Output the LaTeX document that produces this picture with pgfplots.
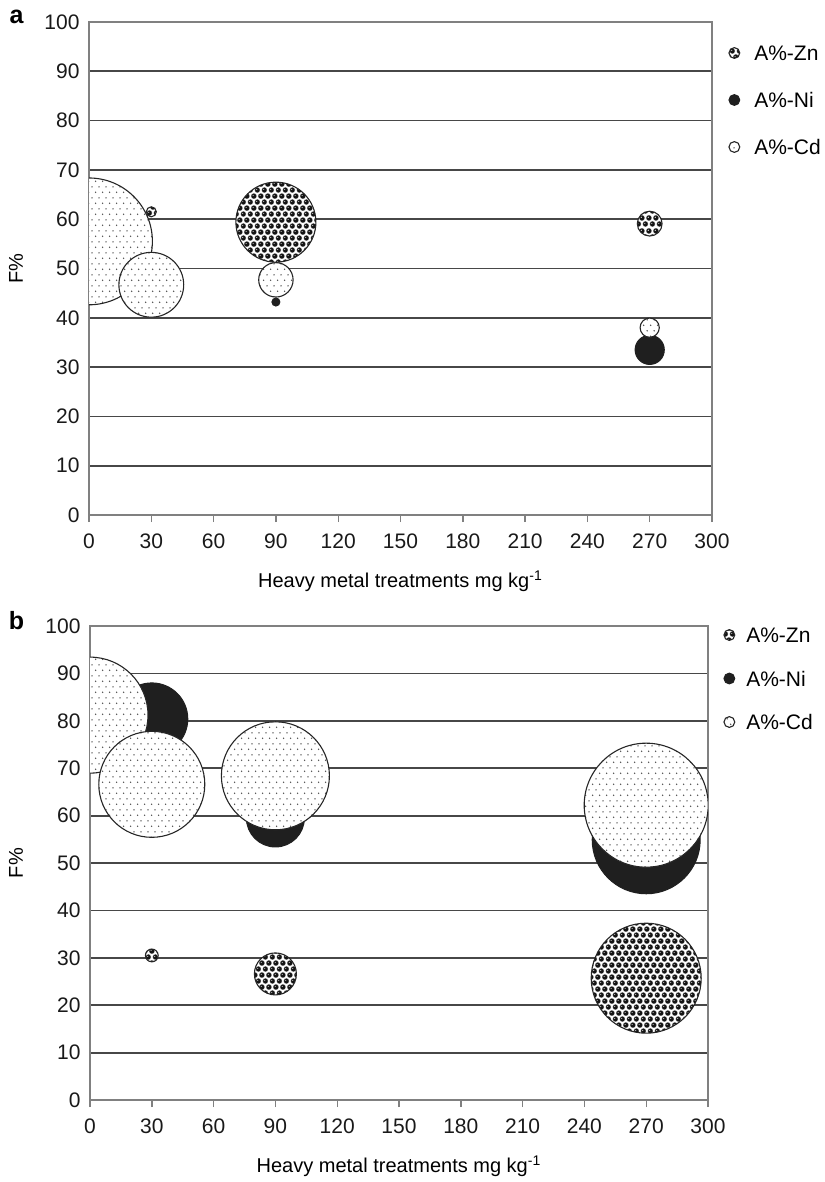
\documentclass[border=0pt]{standalone}
\usepackage{fontspec}
\setmainfont{Liberation Sans}
\usepackage{pgfplots}
\pgfplotsset{compat=1.18}
\usepackage{pgfplotstable}
\usetikzlibrary{patterns}

% ---------- patterns ----------
\pgfdeclarepatterninherentlycolored{cdpat}{\pgfpointorigin}{\pgfpoint{3.65pt}{5.7pt}}{\pgfpoint{3.65pt}{5.7pt}}{%
  \pgfsetfillcolor{black!70}%
  \pgfpathcircle{\pgfpoint{0.91pt}{1.42pt}}{0.42pt}%
  \pgfpathcircle{\pgfpoint{2.74pt}{4.27pt}}{0.42pt}%
  \pgfusepath{fill}}
\pgfdeclarepatterninherentlycolored{znpat}{\pgfpointorigin}{\pgfpoint{3.65pt}{6.2pt}}{\pgfpoint{3.65pt}{6.2pt}}{%
  \pgfsetfillcolor{white}%
  \pgfpathrectangle{\pgfpointorigin}{\pgfpoint{3.65pt}{6.2pt}}\pgfusepath{fill}%
  \pgfsetfillcolor{black!50}%
  \pgfpathcircle{\pgfpoint{1.825pt}{1.55pt}}{1.5pt}%
  \pgfpathcircle{\pgfpoint{0pt}{4.65pt}}{1.5pt}%
  \pgfpathcircle{\pgfpoint{3.65pt}{4.65pt}}{1.5pt}%
  \pgfusepath{fill}%
  \pgfsetfillcolor{black!92}%
  \pgfpathcircle{\pgfpoint{1.825pt}{1.55pt}}{1.22pt}%
  \pgfpathcircle{\pgfpoint{0pt}{4.65pt}}{1.22pt}%
  \pgfpathcircle{\pgfpoint{3.65pt}{4.65pt}}{1.22pt}%
  \pgfusepath{fill}%
  \pgfsetfillcolor{white}%
  \pgfpathcircle{\pgfpoint{1.5pt}{1.9pt}}{0.28pt}%
  \pgfpathcircle{\pgfpoint{3.325pt}{5.0pt}}{0.28pt}%
  \pgfusepath{fill}}

% ---------- bubble marks ----------
\pgfdeclareplotmark{cdbub}{%
  \pgfpathcircle{\pgfpointorigin}{\pgfplotmarksize}%
  \pgfsetfillcolor{white}\pgfusepath{fill}%
  \pgfpathcircle{\pgfpointorigin}{\pgfplotmarksize}%
  \pgfsetfillpattern{cdpat}{black}%
  \pgfsetstrokecolor{black!85}\pgfsetlinewidth{0.55pt}%
  \pgfusepath{fill,stroke}}
\pgfdeclareplotmark{znbub}{%
  \pgfpathcircle{\pgfpointorigin}{\pgfplotmarksize}%
  \pgfsetfillpattern{znpat}{black}%
  \pgfsetstrokecolor{black!85}\pgfsetlinewidth{0.55pt}%
  \pgfusepath{fill,stroke}}
\pgfdeclareplotmark{nibub}{%
  \pgfpathcircle{\pgfpointorigin}{\pgfplotmarksize}%
  \pgfsetfillcolor{black!88}\pgfsetstrokecolor{black!88}\pgfsetlinewidth{0.5pt}%
  \pgfusepath{fill,stroke}}
\newcommand\legmark[1]{\pgfsetplotmarksize{2.7pt}\pgfuseplotmark{#1}}

% ---------- data ----------
\pgfplotstableread{
x y r
30 61.5 2.5
90 59.4 20
270 59.1 6.2
}\aZn
\pgfplotstableread{
x y r
90 43.2 2
270 33.5 7.3
}\aNi
\pgfplotstableread{
x y r
0 55.5 31.7
30 46.7 16.2
90 47.7 8.6
270 38.0 4.8
}\aCd
\pgfplotstableread{
x y r
30 30.5 3.2
90 26.6 10.5
270 25.7 27.5
}\bZn
\pgfplotstableread{
x y r
30 80.4 18
90 59.5 14.5
270 54.9 27
}\bNi
\pgfplotstableread{
x y r
0 81.2 29
30 66.6 26.5
90 68.4 27
270 62.2 31
}\bCd

\newcommand\fs{\fontsize{10.5}{12.5}\selectfont}

\pgfplotsset{
  bub/.style={scatter, only marks, mark=#1, forget plot, point meta=\thisrow{r},
    visualization depends on={\thisrow{r} \as \rad},
    scatter/@pre marker code/.append style={/tikz/mark size=\rad}},
  panel/.style={scale only axis, xmin=0, xmax=300, ymin=0, ymax=100,
    xtick={0,30,...,300}, ytick={0,10,...,100},
    /pgf/number format/assume math mode=true,
    tick label style={font=\fs, black!90},
    xticklabel style={yshift=-2.5pt},
    yticklabel style={xshift=2.3pt},
    label style={font=\fs},
    ymajorgrids, major grid style={black!72, line width=0.9pt},
    axis line style={black!50, line width=0.7pt},
    xtick pos=bottom, ytick pos=left, tick align=outside,
    major tick length=3.5pt, ytick style={draw=none},
    xtick style={black!50, line width=0.7pt},
    clip marker paths=true,
    xlabel={Heavy metal treatments mg kg\textsuperscript{-1}},
    ylabel={F\%},
    every axis x label/.style={at={(axis description cs:0.5,0)}, anchor=center, yshift=-33pt},
    legend cell align=left,
    legend style={draw=none, fill=none, font=\fs, inner sep=0pt, outer sep=0pt,
      anchor=north west, at={(1,1)},
      nodes={inner sep=0pt, text height=7.5pt, text depth=0pt},
      column sep=7pt},
  }
}

\begin{document}
\begin{tikzpicture}
\path[use as bounding box] (0pt,0pt) rectangle (412pt,-591pt);
% ---------------- panel a ----------------
\begin{axis}[panel, name=pa, at={(44.5pt,-257.5pt)}, anchor=south west,
  width=311.5pt, height=246.5pt,
  every axis y label/.style={at={([xshift=-36.5pt]axis description cs:0,0.5)}, anchor=center, rotate=90},
  legend style={xshift=8.2pt, yshift=-11.75pt, row sep=16pt}]
\addlegendimage{legend image code/.code={\legmark{znbub}}}
\addlegendentry{A\%-Zn}
\addlegendimage{legend image code/.code={\legmark{nibub}}}
\addlegendentry{A\%-Ni}
\addlegendimage{legend image code/.code={\legmark{cdbub}}}
\addlegendentry{A\%-Cd}
\addplot[bub=nibub] table {\aNi};
\addplot[bub=cdbub] table {\aCd};
\addplot[bub=znbub] table {\aZn};
\end{axis}
\node[font=\bfseries\fontsize{12.5}{14}\selectfont, anchor=center] at ([xshift=-36.25pt,yshift=2.75pt]pa.north west) {a};
% ---------------- panel b ----------------
\begin{axis}[panel, name=pb, at={(45pt,-550pt)}, anchor=south west,
  width=309pt, height=237pt,
  every axis y label/.style={at={([xshift=-37pt]axis description cs:0,0.5)}, anchor=center, rotate=90},
  legend style={xshift=7.7pt, yshift=-0.75pt, row sep=14.25pt, column sep=5.5pt}]
\addlegendimage{legend image code/.code={\legmark{znbub}}}
\addlegendentry{A\%-Zn}
\addlegendimage{legend image code/.code={\legmark{nibub}}}
\addlegendentry{A\%-Ni}
\addlegendimage{legend image code/.code={\legmark{cdbub}}}
\addlegendentry{A\%-Cd}
\addplot[bub=nibub] table {\bNi};
\addplot[bub=cdbub] table {\bCd};
\addplot[bub=znbub] table {\bZn};
\end{axis}
\node[font=\bfseries\fontsize{12.5}{14}\selectfont, anchor=center] at ([xshift=-36.75pt,yshift=2.75pt]pb.north west) {b};
\end{tikzpicture}
\end{document}
